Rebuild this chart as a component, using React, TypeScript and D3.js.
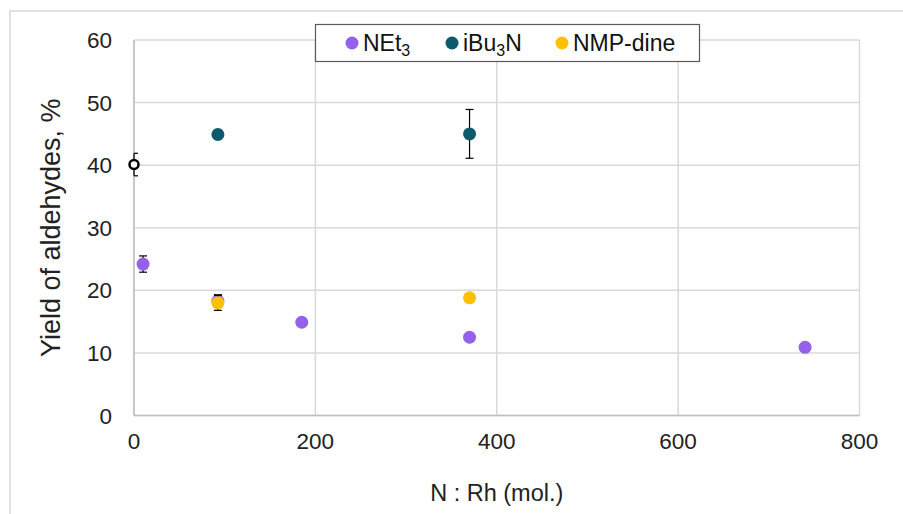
import React from "react";
import * as d3 from "d3";

const xTicks = [0, 200, 400, 600, 800];
const yTicks = [0, 10, 20, 30, 40, 50, 60];

const seriesNames = ["NEt3", "iBu3N", "NMP-dine"];
const seriesColors = ["#9461ea", "#0d5a6c", "#ffc000"];

const nEt3X = [10, 92.5, 185, 370, 740];
const nEt3Y = [24.2, 18.3, 14.9, 12.5, 10.9];
const nEt3Err = [1.3, 1.0, 0, 0, 0];

const iBu3NX = [92.5, 370];
const iBu3NY = [44.9, 45.0];
const iBu3NErr = [0.7, 3.9];

const nmpX = [92.5, 370];
const nmpY = [18.0, 18.8];
const nmpErr = [1.2, 0];

const blankX = [0];
const blankY = [40.1];
const blankErr = [1.8];

const W = 903;
const H = 514;
const left = 134;
const right = 859.5;
const top = 40;
const bottom = 415.5;

const FONT = "'Liberation Sans', Arial, sans-serif";

export default function App() {
  const x = d3.scaleLinear().domain([0, 800]).range([left, right]);
  const y = d3.scaleLinear().domain([0, 60]).range([bottom, top]);

  const series = [
    { name: seriesNames[0], xs: nEt3X, ys: nEt3Y, es: nEt3Err, color: seriesColors[0] },
    { name: seriesNames[1], xs: iBu3NX, ys: iBu3NY, es: iBu3NErr, color: seriesColors[1] },
    { name: seriesNames[2], xs: nmpX, ys: nmpY, es: nmpErr, color: seriesColors[2] },
  ];

  const errBar = (xv: number, yv: number, e: number, key: string) => {
    if (!e) return null;
    const cx = x(xv);
    const y1 = y(yv + e);
    const y2 = y(yv - e);
    const cl = Math.max(cx - 4, left);
    const cr = cx + 4;
    return (
      <g key={key} stroke="#000" strokeWidth={1.2}>
        <line x1={cx} x2={cx} y1={y1} y2={y2} />
        <line x1={cl} x2={cr} y1={y1} y2={y1} />
        <line x1={cl} x2={cr} y1={y2} y2={y2} />
      </g>
    );
  };

  const legendItems = [
    { cx: 352, tx: 363, main: "NEt", sub: "3", tail: "" },
    { cx: 452, tx: 463, main: "iBu", sub: "3", tail: "N" },
    { cx: 562, tx: 573, main: "NMP-dine", sub: "", tail: "" },
  ];

  return (
    <svg
      width={W}
      height={H}
      style={{ position: "absolute", left: 0, top: 0, background: "#fff" }}
      fontFamily={FONT}
    >
      <rect x={10} y={11} width={W} height={H} fill="#fff" stroke="#d9d9d9" strokeWidth={1.5} />

      {/* gridlines */}
      {yTicks.map((t) => (
        <line key={"gy" + t} x1={left} x2={right} y1={y(t)} y2={y(t)} stroke="#d9d9d9" strokeWidth={1.5} />
      ))}
      {xTicks.map((t) => (
        <line key={"gx" + t} x1={x(t)} x2={x(t)} y1={top} y2={bottom} stroke="#d9d9d9" strokeWidth={1.5} />
      ))}
      <line x1={left} x2={left} y1={top} y2={bottom} stroke="#bfbfbf" strokeWidth={1.5} />
      <line x1={left} x2={right} y1={bottom} y2={bottom} stroke="#bfbfbf" strokeWidth={1.5} />

      {/* tick labels */}
      {yTicks.map((t) => (
        <text key={"ly" + t} x={112} y={y(t)} dy="0.36em" textAnchor="end" fontSize={22.5} fill="#222">
          {t}
        </text>
      ))}
      {xTicks.map((t) => (
        <text key={"lx" + t} x={x(t)} y={449} textAnchor="middle" fontSize={22.5} fill="#222">
          {t}
        </text>
      ))}

      {/* axis titles */}
      <text
        transform={`translate(60, ${(top + bottom) / 2}) rotate(-90)`}
        textAnchor="middle"
        fontSize={27}
        fill="#222"
      >
        Yield of aldehydes, %
      </text>
      <text x={(left + right) / 2} y={501} textAnchor="middle" fontSize={23.5} fill="#222">
        N : Rh (mol.)
      </text>

      {/* blank point */}
      {blankX.map((xv, i) => errBar(xv, blankY[i], blankErr[i], "be" + i))}
      {blankX.map((xv, i) => (
        <circle key={"bp" + i} cx={x(xv)} cy={y(blankY[i])} r={4.5} fill="#fff" stroke="#000" strokeWidth={2.5} />
      ))}

      {/* series */}
      {series.map((s, si) => (
        <g key={"s" + si}>
          {s.xs.map((xv, i) => errBar(xv, s.ys[i], s.es[i], `e${si}-${i}`))}
          {s.xs.map((xv, i) => (
            <circle key={`p${si}-${i}`} cx={x(xv)} cy={y(s.ys[i])} r={6.5} fill={s.color} />
          ))}
        </g>
      ))}

      {/* legend */}
      <rect x={315.5} y={24.5} width={384} height={37} fill="#fff" stroke="#595959" strokeWidth={1.2} />
      {legendItems.map((it, i) => (
        <g key={"lg" + i}>
          <circle cx={it.cx} cy={43} r={6.5} fill={seriesColors[i]} />
          <text x={it.tx} y={51} fontSize={23} fill="#111">
            {it.main}
            {it.sub && (
              <tspan fontSize={16} dy={5}>
                {it.sub}
              </tspan>
            )}
            {it.tail && <tspan dy={-5}>{it.tail}</tspan>}
          </text>
        </g>
      ))}
    </svg>
  );
}
